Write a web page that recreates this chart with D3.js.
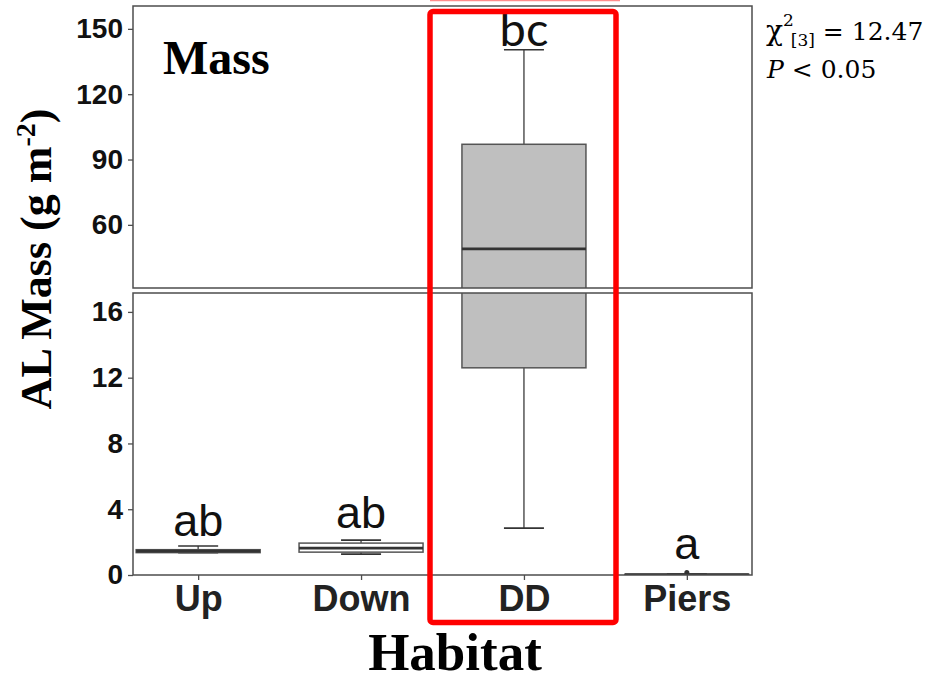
<!DOCTYPE html>
<html>
<head>
<meta charset="utf-8">
<script src="https://cdn.jsdelivr.net/npm/d3@7"></script>
<style>
  html, body { margin: 0; padding: 0; background: #fff; }
  svg { display: block; }
</style>
</head>
<body>
<svg id="chart" width="930" height="682"></svg>
<script>
// Habitat categories and box-plot summaries of AL mass (g m^-2)
const categories = ["Up", "Down", "DD", "Piers"];
const lowerWhisker = [1.36, 1.27, 2.85, 0.00];
const q1 = [1.36, 1.39, 12.6, 0.01];
const median = [1.45, 1.64, 49.0, 0.02];
const q3 = [1.54, 1.94, 97.0, 0.04];
const upperWhisker = [1.76, 2.12, 140.4, 0.06];
const outliers = [[], [], [], [0.15]];

// Significance letters and the value at which each one sits
const groupLetters = ["ab", "ab", "bc", "a"];
const letterValue = [2.4, 2.85, 142, 1.0];

// Broken y axis: upper and lower panel ticks
const topTicks = [60, 90, 120, 150];
const bottomTicks = [0, 4, 8, 12, 16];
const topDomain = [31, 160.5];
const bottomDomain = [0, 17.15];

const svg = d3.select("#chart");

const xLeft = 133, xRight = 752;
const topPanel = { y0: 6, y1: 288 };
const botPanel = { y0: 293, y1: 575 };

const x = d3.scalePoint().domain(categories).range([xLeft, xRight]).padding(0.4);
const yTop = d3.scaleLinear().domain(topDomain).range([topPanel.y1, topPanel.y0]);
const yBot = d3.scaleLinear().domain(bottomDomain).range([botPanel.y1, botPanel.y0]);

const boxWidth = 124, capWidth = 40;
const boxFill = d3.scaleOrdinal().domain(categories).range(["#ffffff", "#ffffff", "#bfbfbf", "#ffffff"]);

const defs = svg.append("defs");
[["clipTop", topPanel], ["clipBot", botPanel]].forEach(([id, p]) => {
  defs.append("clipPath").attr("id", id)
    .append("rect").attr("x", xLeft).attr("y", p.y0)
    .attr("width", xRight - xLeft).attr("height", p.y1 - p.y0);
});

const rows = categories.map((c, i) => ({
  cat: c, lo: lowerWhisker[i], q1: q1[i], med: median[i], q3: q3[i], hi: upperWhisker[i], out: outliers[i]
}));

// Draw the boxes once per panel, each clipped to its own y range
function drawBoxes(y, clipId) {
  const g = svg.append("g").attr("clip-path", `url(#${clipId})`);
  const b = g.selectAll("g.box").data(rows).join("g").attr("class", "box");
  b.append("line")
    .attr("x1", d => x(d.cat)).attr("x2", d => x(d.cat))
    .attr("y1", d => y(d.q3)).attr("y2", d => y(d.hi))
    .attr("stroke", "#555").attr("stroke-width", 1.5);
  b.append("line")
    .attr("x1", d => x(d.cat)).attr("x2", d => x(d.cat))
    .attr("y1", d => y(d.lo)).attr("y2", d => y(d.q1))
    .attr("stroke", "#555").attr("stroke-width", 1.5);
  ["hi", "lo"].forEach(k => {
    b.append("line")
      .attr("x1", d => x(d.cat) - capWidth / 2).attr("x2", d => x(d.cat) + capWidth / 2)
      .attr("y1", d => y(d[k])).attr("y2", d => y(d[k]))
      .attr("stroke", "#333").attr("stroke-width", 1.6);
  });
  b.append("rect")
    .attr("x", d => x(d.cat) - boxWidth / 2).attr("width", boxWidth)
    .attr("y", d => y(d.q3)).attr("height", d => Math.max(0.5, y(d.q1) - y(d.q3)))
    .attr("fill", d => boxFill(d.cat)).attr("stroke", "#555").attr("stroke-width", 1.5);
  b.append("line")
    .attr("x1", d => x(d.cat) - boxWidth / 2).attr("x2", d => x(d.cat) + boxWidth / 2)
    .attr("y1", d => y(d.med)).attr("y2", d => y(d.med))
    .attr("stroke", "#333").attr("stroke-width", 2.8);
  b.selectAll("circle").data(d => d.out.map(v => ({ cat: d.cat, v }))).join("circle")
    .attr("cx", d => x(d.cat)).attr("cy", d => y(d.v)).attr("r", 2.5).attr("fill", "#333");
}
drawBoxes(yTop, "clipTop");
drawBoxes(yBot, "clipBot");

// Panel frames
[topPanel, botPanel].forEach(p => {
  svg.append("rect").attr("x", xLeft).attr("y", p.y0)
    .attr("width", xRight - xLeft).attr("height", p.y1 - p.y0)
    .attr("fill", "none").attr("stroke", "#4d4d4d").attr("stroke-width", 1.5);
});

// Y axes
function styleAxis(g) {
  g.select(".domain").remove();
  g.selectAll(".tick line").attr("stroke", "#4d4d4d").attr("stroke-width", 1.3);
  g.selectAll(".tick text")
    .attr("font-family", "'Liberation Sans', Arial, sans-serif")
    .attr("font-weight", "bold").attr("font-size", 28).attr("fill", "#111");
}
svg.append("g").attr("transform", `translate(${xLeft},0)`)
  .call(d3.axisLeft(yTop).tickValues(topTicks).tickSize(5).tickPadding(5))
  .call(styleAxis);
svg.append("g").attr("transform", `translate(${xLeft},0)`)
  .call(d3.axisLeft(yBot).tickValues(bottomTicks).tickSize(5).tickPadding(5))
  .call(styleAxis);

// X axis
const xAxis = svg.append("g").attr("transform", `translate(0,${botPanel.y1})`)
  .call(d3.axisBottom(x).tickSize(5).tickPadding(4));
xAxis.select(".domain").remove();
xAxis.selectAll(".tick line").attr("stroke", "#4d4d4d").attr("stroke-width", 1.3);
xAxis.selectAll(".tick text")
  .attr("font-family", "'Liberation Sans', Arial, sans-serif")
  .attr("font-weight", "bold").attr("font-size", 36).attr("fill", "#222")
  .attr("dy", "0.74em");

// Group letters
rows.forEach((d, i) => {
  const inTop = letterValue[i] > bottomDomain[1];
  const y = inTop ? yTop(letterValue[i]) : yBot(letterValue[i]);
  svg.append("text")
    .attr("x", x(d.cat)).attr("y", y)
    .attr("text-anchor", "middle")
    .attr("font-family", inTop ? "Lato, 'Open Sans', sans-serif" : "'Liberation Sans', Arial, sans-serif")
    .attr("font-size", inTop ? 47 : 45).attr("fill", "#111")
    .text(groupLetters[i]);
});

// Panel label
svg.append("text").attr("x", 163).attr("y", 74)
  .attr("font-family", "'Liberation Serif', 'Times New Roman', serif")
  .attr("font-weight", "bold").attr("font-size", 48).attr("fill", "#000")
  .text("Mass");

// Axis titles
const yTitle = svg.append("text")
  .attr("transform", "translate(51,259) rotate(-90)")
  .attr("text-anchor", "middle")
  .attr("font-family", "'Liberation Serif', 'Times New Roman', serif")
  .attr("font-weight", "bold").attr("font-size", 44).attr("fill", "#000");
yTitle.append("tspan").text("AL Mass (g m");
yTitle.append("tspan").attr("font-size", 28).attr("dy", -16).text("-2");
yTitle.append("tspan").attr("dy", 16).text(")");

svg.append("text").attr("x", 455).attr("y", 670)
  .attr("text-anchor", "middle")
  .attr("font-family", "'Liberation Serif', 'Times New Roman', serif")
  .attr("font-weight", "bold").attr("font-size", 53).attr("fill", "#000")
  .text("Habitat");

// Kruskal-Wallis statistic
const stat = svg.append("text").attr("x", 766).attr("y", 40)
  .attr("font-family", "'DejaVu Serif', serif").attr("font-size", 25).attr("fill", "#000");
stat.append("tspan").attr("font-size", 28).text("χ");
stat.append("tspan").attr("font-size", 17).attr("dy", -14).text("2");
stat.append("tspan").attr("font-size", 17).attr("dx", -3).attr("dy", 20).text("[3]");
stat.append("tspan").attr("dy", -6).text(" = 12.47");
const pText = svg.append("text").attr("x", 767).attr("y", 78)
  .attr("font-family", "'DejaVu Serif', serif").attr("font-size", 25).attr("fill", "#000");
pText.append("tspan").attr("font-style", "italic").text("P");
pText.append("tspan").text(" < 0.05");

// Highlight frame around DD
svg.append("line").attr("x1", 430).attr("x2", 620).attr("y1", 0.5).attr("y2", 0.5)
  .attr("stroke", "#ff8c8c").attr("stroke-width", 1.5);
svg.append("rect").attr("x", 430).attr("y", 11.5).attr("width", 186).attr("height", 611)
  .attr("rx", 3).attr("fill", "none").attr("stroke", "#ff0000").attr("stroke-width", 5.5);
</script>
</body>
</html>
